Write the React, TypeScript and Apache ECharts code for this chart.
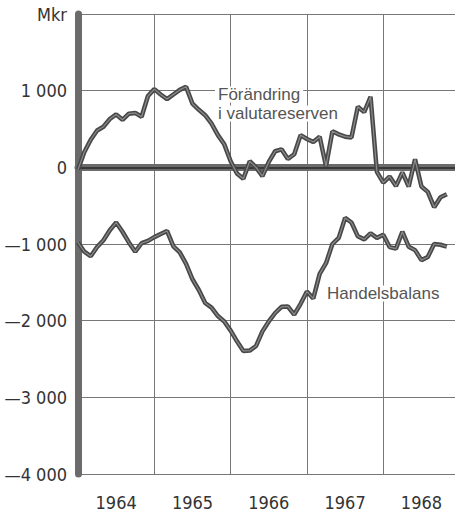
import React, { useEffect, useRef } from "react";
import * as echarts from "echarts";

// Month index 0 = January 1964, one value per month (Mkr)
const valutareserven: number[] = [
  -30, 200, 360, 480, 530, 630, 690, 620, 700, 710, 660, 930,
  1020, 950, 890, 950, 1010, 1050, 830, 750, 680, 570, 420, 300,
  80, -80, -150, 80, 0, -115, 70, 210, 235, 110, 170, 420,
  370, 330, 400, 15, 470, 430, 400, 390, 790, 720, 920, -60,
  -200, -120, -245, -65, -250, 105, -250, -320, -520, -390, -350,
];
const handelsbalans: number[] = [
  -980, -1100, -1160, -1040, -950, -820, -720, -840, -980, -1100, -990, -960,
  -910, -870, -830, -1030, -1110, -1260, -1460, -1600, -1770, -1830, -1940, -2010,
  -2130, -2270, -2395, -2390, -2330, -2140, -2010, -1900, -1820, -1815, -1920, -1780,
  -1620, -1710, -1390, -1250, -1000, -920, -660, -720, -900, -940, -860, -920,
  -880, -1040, -1060, -840, -1035, -1080, -1210, -1170, -1000, -1010, -1035,
];
const firstYear = 1964;
const yearLabelPositions: number[] = [0.5, 1.5, 2.5, 3.5, 4.5];
const yTicks = { min: -4000, max: 2000, interval: 1000 };
const labelValuta1 = "Förändring";
const labelValuta2 = "i valutareserven";
const labelHandel = "Handelsbalans";

const toPairs = (vals: number[]) => vals.map((v, i) => [i / 12, v]);

function fmtY(v: number): string {
  if (v === 2000) return "Mkr";
  if (v === 0) return "0";
  const a = Math.abs(v);
  const s = a >= 1000 ? `${Math.floor(a / 1000)} ${String(a % 1000).padStart(3, "0")}` : String(a);
  return v < 0 ? "—" + s : s;
}

export default function App() {
  const ref = useRef<HTMLDivElement>(null);
  useEffect(() => {
    if (!ref.current) return;
    const chart = echarts.init(ref.current, undefined, { renderer: "svg" });
    const tickFont = '"Liberation Sans Narrow", "DejaVu Sans Condensed", "Liberation Sans", Arial, sans-serif';
    const annFont = '17px "Liberation Sans", Arial, sans-serif';
    const lineColor = "#484848";
    const coreColor = "#8c8c8c";
    const annStyle = (text: string) => ({
      text,
      font: annFont,
      fill: "#555",
      lineHeight: 16,
      backgroundColor: "#fff",
      padding: [0, 3, 0, 3],
    });
    chart.setOption({
      animation: false,
      backgroundColor: "#ffffff",
      grid: { left: 78, right: 0, top: 14, bottom: 34, containLabel: false },
      xAxis: {
        type: "value",
        min: 0,
        max: 4.94,
        interval: 1,
        axisLine: { show: true, lineStyle: { color: "#6b6b6b", width: 7 } },
        axisTick: { show: false },
        splitLine: { show: true, lineStyle: { color: "#777", width: 1 } },
        axisLabel: {
          customValues: yearLabelPositions,
          formatter: (v: number) => String(firstYear + Math.floor(v)),
          margin: 19,
          fontSize: 18,
          fontFamily: tickFont,
          color: "#333",
        },
      },
      yAxis: {
        type: "value",
        min: yTicks.min,
        max: yTicks.max,
        interval: yTicks.interval,
        axisLine: { show: true, onZero: false, lineStyle: { color: "#6b6b6b", width: 7 } },
        axisTick: { show: false },
        splitLine: { show: true, lineStyle: { color: "#777", width: 1 } },
        axisLabel: {
          formatter: fmtY,
          margin: 11,
          fontSize: 18,
          fontFamily: tickFont,
          color: "#333",
        },
      },
      series: [
        {
          name: "Förändring i valutareserven",
          type: "line",
          data: toPairs(valutareserven),
          showSymbol: false,
          lineStyle: { color: lineColor, width: 4.5 },
          z: 5,
          markLine: {
            silent: true,
            symbol: ["none", "none"],
            label: { show: false },
            lineStyle: { color: "#383838", width: 2, type: "solid" },
            data: [{ yAxis: 0 }],
            z: 3,
          },
        },
        {
          name: "Handelsbalans",
          type: "line",
          data: toPairs(handelsbalans),
          showSymbol: false,
          lineStyle: { color: lineColor, width: 4.5 },
          z: 5,
        },
        {
          name: "valuta-core",
          type: "line",
          data: toPairs(valutareserven),
          showSymbol: false,
          silent: true,
          lineStyle: { color: coreColor, width: 1.2 },
          z: 6,
        },
        {
          name: "handel-core",
          type: "line",
          data: toPairs(handelsbalans),
          showSymbol: false,
          silent: true,
          lineStyle: { color: coreColor, width: 1.2 },
          z: 6,
        },
      ],
      graphic: [
        { type: "text", left: 215, top: 86, z: 10, style: annStyle(labelValuta1) },
        { type: "text", left: 215, top: 105, z: 10, style: annStyle(labelValuta2) },
        { type: "text", left: 324, top: 285, z: 10, style: annStyle(labelHandel) },
      ],
    });
    return () => chart.dispose();
  }, []);
  return (
    <div
      ref={ref}
      style={{ position: "fixed", left: 0, top: 0, width: 455, height: 511 }}
    />
  );
}
